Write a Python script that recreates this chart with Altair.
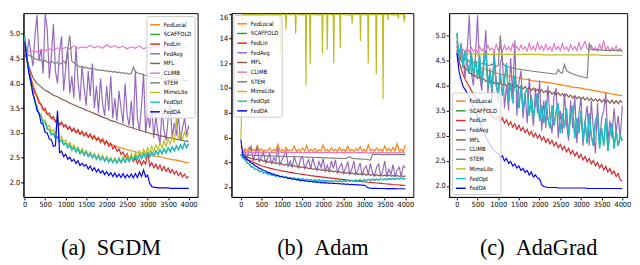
import altair as alt
import pandas as pd

METHODS = ["FedLocal", "SCAFFOLD", "FedLin", "FedAvg", "MFL", "CLIMB", "STEM", "MimeLite", "FedOpt", "FedDA"]
COLORS = ["#ff7f0e", "#2ca02c", "#d62728", "#9467bd", "#8c564b", "#e377c2", "#7f7f7f", "#bcbd22", "#17becf", "#0000ff"]
X_TICKS = [0, 500, 1000, 1500, 2000, 2500, 3000, 3500, 4000]
Y_TICKS_A = [2.0, 2.5, 3.0, 3.5, 4.0, 4.5, 5.0]
Y_TICKS_B = [2, 4, 6, 8, 10, 12, 14, 16]
Y_TICKS_C = [2.0, 2.5, 3.0, 3.5, 4.0, 4.5, 5.0]
CAPTIONS = ["(a)\u2002SGDM", "(b)\u2002Adam", "(c)\u2002AdaGrad"]
SANS = "'Liberation Sans Narrow', 'DejaVu Sans Condensed', 'Arial Narrow', 'DejaVu Sans', sans-serif"

# ---------------- (a) SGDM : values read every 100 or 50 iterations ----------------
A_FEDLOCAL = [4.80, 4.30, 3.98, 3.75, 3.56, 3.42, 3.34, 3.27, 3.21, 3.17, 3.13, 3.09, 3.05, 3.02, 2.99, 2.96, 2.93, 2.90, 2.87, 2.84,
              2.81, 2.77, 2.74, 2.71, 2.69, 2.66, 2.64, 2.62, 2.60, 2.59, 2.57, 2.55, 2.53, 2.52, 2.50, 2.48, 2.46, 2.45, 2.43, 2.41, 2.40]
A_FEDLIN = [4.90, 4.52, 4.30, 4.08, 3.92, 3.80, 3.73, 3.60, 3.58, 3.46, 3.50, 3.38, 3.40, 3.29, 3.33, 3.22, 3.27, 3.16, 3.22, 3.12,
            3.17, 3.07, 3.13, 3.03, 3.10, 3.00, 3.07, 2.97, 3.04, 2.94, 3.01, 2.91, 2.98, 2.88, 2.95, 2.85, 2.91, 2.81, 2.88, 2.77,
            2.84, 2.73, 2.79, 2.68, 2.74, 2.63, 2.68, 2.57, 2.62, 2.51, 2.58, 2.46, 2.53, 2.42, 2.49, 2.38, 2.46, 2.35, 2.44, 2.37,
            2.62, 2.33, 2.40, 2.30, 2.37, 2.27, 2.35, 2.24, 2.32, 2.22, 2.29, 2.19, 2.26, 2.17, 2.23, 2.14, 2.20, 2.11, 2.17, 2.09, 2.12]
A_FEDAVG = [4.75, 4.50, 4.90, 4.62, 4.35, 4.95, 5.38, 4.45, 4.70, 4.20, 5.40, 5.10, 4.10, 4.55, 5.20, 4.25, 4.00, 4.65, 4.95, 3.85,
            4.30, 4.70, 3.80, 4.15, 3.70, 4.75, 4.05, 3.65, 4.35, 3.90, 3.55, 4.25, 3.75, 4.40, 3.50, 3.95, 3.40, 4.10, 3.60, 3.35,
            3.95, 3.45, 4.15, 3.30, 3.70, 3.25, 3.85, 3.50, 3.20, 4.00, 3.35, 3.15, 3.65, 3.10, 4.25, 3.30, 3.05, 3.55, 4.20, 3.00,
            3.40, 3.10, 3.55, 2.90, 3.35, 3.00, 2.78, 3.45, 3.05, 2.85, 3.30, 3.60, 2.90, 3.20, 2.95, 3.35, 2.85, 3.10, 3.30, 2.95, 3.15]
A_MFL = [4.62, 4.35, 4.12, 4.00, 3.93, 3.86, 3.82, 3.76, 3.73, 3.68, 3.65, 3.60, 3.57, 3.53, 3.50, 3.46, 3.43, 3.39, 3.36, 3.32,
         3.29, 3.25, 3.23, 3.19, 3.17, 3.13, 3.11, 3.08, 3.06, 3.03, 3.01, 2.98, 2.97, 2.94, 2.93, 2.90, 2.90, 2.87, 2.86, 2.84, 2.83]
A_CLIMB = [4.62, 4.64, 4.66, 4.63, 4.68, 4.66, 4.70, 4.67, 4.72, 4.69, 4.73, 4.70, 4.76, 4.71, 4.74, 4.72, 4.77, 4.72, 4.75, 4.71,
           4.78, 4.73, 4.76, 4.72, 4.75, 4.70, 4.74, 4.71, 4.76, 4.70, 4.74, 4.72, 4.75, 4.71, 4.74, 4.72, 4.76, 4.71, 4.74, 4.72, 4.73]
A_STEM = [4.62, 4.60, 4.57, 4.55, 4.53, 4.50, 4.48, 4.50, 4.46, 4.44, 4.47, 4.43, 4.41, 4.45, 4.42, 4.40, 4.43, 4.39, 4.41, 4.45,
          4.40, 4.70, 4.97, 4.45, 4.42, 4.38, 4.36, 4.33, 4.35, 4.31, 4.33, 4.30, 4.31, 4.28, 4.30, 4.27, 4.28, 4.26, 4.27, 4.25,
          4.26, 4.24, 4.25, 4.23, 4.24, 4.22, 4.23, 4.21, 4.22, 4.20, 4.21, 4.19, 4.20, 4.33, 4.24, 4.21, 4.20, 4.19, 4.17, 4.16,
          4.15, 4.14, 4.14, 4.13, 4.12, 4.12, 4.11, 4.11, 4.10, 4.10, 4.09, 4.09, 4.08, 4.08, 4.08, 4.07, 4.07, 4.07, 4.06, 4.06, 4.06]
A_MIMELITE = [4.90, 4.48, 4.22, 3.98, 3.80, 3.62, 3.55, 3.40, 3.38, 3.24, 3.26, 3.12, 3.15, 3.02, 3.07, 2.95, 3.40, 2.88, 2.93, 2.82,
              2.86, 2.75, 2.81, 2.70, 2.76, 2.66, 2.72, 2.62, 2.68, 2.58, 2.65, 2.55, 2.62, 2.52, 2.59, 2.49, 2.57, 2.47, 2.55, 2.45,
              2.53, 2.43, 2.51, 2.41, 2.50, 2.40, 2.50, 2.41, 2.52, 2.43, 2.55, 2.46, 2.58, 2.48, 2.61, 2.51, 2.64, 2.54, 2.67, 2.57,
              2.70, 2.60, 2.73, 2.63, 2.76, 2.66, 2.80, 2.69, 2.84, 2.73, 2.88, 2.77, 2.92, 2.81, 3.30, 2.85, 2.98, 2.88, 3.02, 2.92, 3.00]
A_FEDOPT = [4.95, 4.55, 4.28, 4.02, 3.82, 3.62, 3.52, 3.38, 3.33, 3.20, 3.22, 3.08, 3.07, 2.96, 2.99, 2.90, 2.92, 2.82, 2.86, 2.76,
            2.80, 2.70, 2.76, 2.66, 2.71, 2.62, 2.68, 2.58, 2.64, 2.55, 2.62, 2.52, 2.59, 2.50, 2.56, 2.47, 2.54, 2.45, 2.52, 2.43,
            2.50, 2.41, 2.48, 2.40, 2.47, 2.39, 2.48, 2.40, 2.49, 2.41, 2.50, 2.42, 2.52, 2.44, 2.54, 2.46, 2.56, 2.48, 2.58, 2.50,
            2.60, 2.52, 2.62, 2.54, 2.64, 2.56, 2.66, 2.58, 2.68, 2.60, 2.70, 2.62, 2.72, 2.64, 2.74, 2.66, 2.76, 2.68, 2.79, 2.70, 2.78]
A_SCAFFOLD = A_FEDOPT  # hidden under FedOpt in the picture
A_FEDDA = [4.85, 4.52, 4.22, 4.04, 3.78, 3.66, 3.45, 3.40, 3.20, 3.17, 3.01, 3.00, 2.88, 2.86, 2.73, 2.74, 3.45, 2.60, 2.63, 2.52,
           2.57, 2.47, 2.51, 2.43, 2.47, 2.38, 2.44, 2.34, 2.39, 2.33, 2.36, 2.27, 2.33, 2.24, 2.30, 2.21, 2.27, 2.19, 2.24, 2.16,
           2.22, 2.14, 2.20, 2.12, 2.19, 2.11, 2.17, 2.10, 2.18, 2.09, 2.16, 2.10, 2.17, 2.09, 2.18, 2.10, 2.21, 2.12, 2.25, 2.11,
           2.15, 1.98, 1.92, 1.90, 1.90, 1.89, 1.89, 1.89, 1.89, 1.89, 1.89, 1.88, 1.88, 1.88, 1.88, 1.88, 1.88, 1.88, 1.88, 1.88, 1.88]

# ---------------- (b) Adam ----------------
B_MIMELITE_X = [0, 15, 40, 100, 300, 500, 700, 900, 952, 965, 978, 1085, 1098, 1111, 1200, 1320, 1333, 1346, 1450, 1571, 1584, 1597,
                1673, 1686, 1699, 1800, 1971, 1984, 1997, 2089, 2102, 2115, 2246, 2259, 2272, 2403, 2416, 2429, 2550, 2693, 2706, 2719,
                2800, 2897, 2910, 2923, 3000, 3085, 3098, 3111, 3200, 3281, 3294, 3307, 3446, 3459, 3472, 3563, 3576, 3589, 3700,
                3814, 3827, 3840, 3956, 3969, 3982, 4000]
B_MIMELITE_Y = [5.8, 7.8, 15.9, 15.95, 15.92, 15.95, 15.9, 15.95, 15.93, 12.8, 15.95, 15.92, 14.7, 15.95, 15.9, 15.93, 14.4, 15.95,
                15.9, 15.92, 10.2, 15.95, 15.93, 11.9, 15.95, 15.9, 15.92, 12.8, 15.95, 15.93, 13.1, 15.95, 15.92, 12.0, 15.95, 15.93,
                13.2, 15.95, 15.9, 15.92, 15.2, 15.95, 15.9, 15.93, 13.8, 15.95, 15.9, 15.92, 12.0, 15.95, 15.9, 15.93, 11.1, 15.95,
                15.92, 9.1, 15.95, 15.93, 15.5, 15.95, 15.9, 15.92, 15.6, 15.95, 15.93, 15.3, 15.95, 15.6]
B_FEDLOCAL = [5.30, 4.85, 5.10, 4.90, 5.20, 4.88, 5.05, 4.92, 5.35, 4.90, 5.10, 4.86, 5.00, 4.92, 5.15, 4.88, 5.05, 4.90, 5.45, 4.92,
              5.05, 4.88, 5.20, 4.90, 5.02, 4.93, 5.30, 4.88, 5.05, 4.92, 5.15, 4.90, 5.35, 4.88, 5.05, 4.92, 5.10, 4.89, 5.00, 4.93,
              5.40, 4.90, 5.05, 4.88, 5.15, 4.92, 5.05, 4.89, 5.20, 4.92, 5.05, 4.88, 5.30, 4.91, 5.05, 4.89, 5.10, 4.93, 5.25, 4.90,
              5.05, 4.88, 5.40, 4.92, 5.05, 4.89, 5.15, 4.93, 5.05, 4.88, 5.30, 4.92, 5.10, 4.89, 5.20, 4.91, 5.50, 4.88, 5.05, 4.85, 5.40]
B_CLIMB = [4.80, 4.78, 4.81, 4.77, 4.80, 4.78, 4.82, 4.77, 4.80, 4.78, 4.81, 4.77, 4.79, 4.78, 4.81, 4.76, 4.80, 4.78, 4.81, 4.77,
           4.79, 4.77, 4.80, 4.76, 4.79, 4.77, 4.80, 4.76, 4.78, 4.77, 4.79, 4.76, 4.78, 4.76, 4.79, 4.75, 4.78, 4.76, 4.78, 4.75, 4.76]
B_STEM = [4.65, 4.62, 4.60, 4.59, 4.58, 4.57, 4.56, 4.56, 4.55, 4.54, 4.53, 4.53, 4.52, 4.52, 4.51, 4.50, 4.50, 4.49, 4.49, 4.48,
          4.48, 4.47, 4.47, 4.46, 4.46, 4.45, 4.45, 4.44, 4.44, 4.43, 4.42, 4.42, 4.41, 4.41, 4.40, 4.39, 4.38, 4.38, 4.37, 4.37,
          4.36, 4.35, 4.35, 4.34, 4.33, 4.33, 4.32, 4.31, 4.31, 4.30, 4.30, 4.31, 4.36, 4.45, 4.33, 4.29, 4.28, 4.27, 4.26, 4.25,
          4.24, 4.22, 4.20, 4.18, 4.64, 4.63, 4.63, 4.63, 4.63, 4.62, 4.62, 4.62, 4.62, 4.62, 4.62, 4.62, 4.62, 4.62, 4.62, 4.62, 4.62]
B_FEDAVG = [4.60, 4.35, 4.90, 4.25, 5.00, 5.30, 4.10, 4.65, 5.25, 4.00, 4.45, 4.85, 3.95, 4.30, 4.70, 3.85, 4.40, 4.05, 5.20, 3.80,
            4.20, 4.55, 4.90, 3.70, 4.10, 3.65, 4.45, 3.90, 3.55, 4.25, 4.45, 3.50, 3.85, 4.20, 3.45, 4.35, 3.70, 3.35, 4.05, 3.55,
            4.30, 3.30, 3.75, 3.25, 4.10, 3.50, 4.20, 3.15, 3.60, 3.90, 3.10, 3.55, 4.00, 3.05, 3.45, 4.10, 3.00, 3.40, 3.95, 2.95,
            3.50, 3.70, 3.00, 3.90, 3.20, 2.90, 3.60, 3.85, 2.90, 3.30, 4.10, 2.85, 3.45, 3.00, 3.80, 2.85, 3.35, 3.60, 2.85, 3.70, 3.55]
B_MFL = [4.60, 4.50, 4.48, 4.38, 4.40, 4.28, 4.32, 4.20, 4.25, 4.13, 4.20, 4.07, 4.12, 4.00, 4.06, 3.94, 4.00, 3.89, 3.95, 3.83,
         3.88, 3.77, 3.83, 3.72, 3.78, 3.67, 3.73, 3.62, 3.68, 3.57, 3.63, 3.52, 3.58, 3.47, 3.53, 3.42, 3.49, 3.38, 3.45, 3.34,
         3.40, 3.30, 3.36, 3.26, 3.32, 3.22, 3.28, 3.18, 3.24, 3.14, 3.20, 3.10, 3.17, 3.07, 3.14, 3.04, 3.11, 3.01, 3.08, 2.98,
         3.05, 2.96, 3.03, 2.94, 3.01, 2.92, 2.99, 2.90, 2.97, 2.89, 2.96, 2.88, 2.95, 2.87, 2.94, 2.86, 2.93, 2.85, 2.92, 2.84, 2.90]
B_FEDLIN = [4.60, 4.35, 4.15, 4.00, 3.85, 3.72, 3.62, 3.52, 3.44, 3.37, 3.30, 3.24, 3.18, 3.12, 3.07, 3.02, 2.97, 2.92, 2.88, 2.84,
            2.80, 2.76, 2.72, 2.68, 2.64, 2.60, 2.56, 2.52, 2.48, 2.45, 2.41, 2.38, 2.35, 2.32, 2.29, 2.26, 2.23, 2.20, 2.18, 2.15, 2.12]
B_FEDOPT = [4.65, 4.35, 4.20, 3.95, 3.85, 3.62, 3.60, 3.42, 3.42, 3.25, 3.28, 3.12, 3.17, 3.02, 3.08, 2.94, 3.00, 2.87, 2.93, 2.81,
            2.88, 2.76, 2.83, 2.71, 2.78, 2.67, 2.74, 2.63, 2.70, 2.59, 2.67, 2.56, 2.64, 2.53, 2.61, 2.50, 2.59, 2.48, 2.57, 2.46,
            2.55, 2.44, 2.53, 2.43, 2.52, 2.42, 2.52, 2.42, 2.52, 2.43, 2.53, 2.44, 2.54, 2.45, 2.56, 2.46, 2.57, 2.48, 2.59, 2.49,
            2.60, 2.51, 2.62, 2.52, 2.63, 2.54, 2.65, 2.55, 2.66, 2.57, 2.68, 2.58, 2.69, 2.60, 2.71, 2.61, 2.72, 2.63, 2.73, 2.64, 2.70]
B_SCAFFOLD = B_FEDOPT  # hidden under FedOpt in the picture
B_FEDDA = [5.80, 4.60, 4.42, 4.20, 4.12, 3.93, 3.87, 3.70, 3.64, 3.50, 3.46, 3.33, 3.30, 3.18, 3.16, 3.06, 3.04, 2.95, 2.94, 2.85,
           2.85, 2.77, 2.77, 2.69, 2.70, 2.63, 2.64, 2.57, 2.59, 2.52, 2.54, 2.48, 2.50, 2.44, 2.46, 2.40, 2.43, 2.37, 2.40, 2.34,
           2.37, 2.32, 2.34, 2.29, 2.32, 2.27, 2.30, 2.26, 2.28, 2.23, 2.26, 2.21, 2.24, 2.19, 2.22, 2.17, 2.20, 2.15, 2.18, 2.13,
           2.16, 2.05, 1.93, 1.90, 1.89, 1.89, 1.89, 1.88, 1.88, 1.88, 1.88, 1.87, 1.87, 1.87, 1.87, 1.87, 1.86, 1.86, 1.86, 1.86, 1.86]

# ---------------- (c) AdaGrad ----------------
C_FEDLOCAL = [4.80, 4.65, 4.55, 4.48, 4.43, 4.39, 4.35, 4.32, 4.29, 4.26, 4.24, 4.22, 4.20, 4.18, 4.16, 4.15, 4.13, 4.12, 4.10, 4.09,
              4.08, 4.07, 4.06, 4.05, 4.03, 4.02, 4.00, 3.99, 3.97, 3.96, 3.95, 3.93, 3.92, 3.90, 3.89, 3.87, 3.86, 3.84, 3.83, 3.81, 3.80]
C_FEDLIN = [4.70, 4.50, 4.35, 4.22, 4.12, 4.05, 3.98, 3.90, 3.84, 3.78, 3.72, 3.67, 3.62, 3.57, 3.52, 3.48, 3.44, 3.40, 3.36, 3.33,
            3.40, 3.28, 3.36, 3.25, 3.32, 3.21, 3.28, 3.17, 3.24, 3.13, 3.21, 3.10, 3.17, 3.06, 3.13, 3.02, 3.09, 2.98, 3.05, 2.95,
            3.02, 2.91, 2.98, 2.87, 2.94, 2.84, 2.91, 2.80, 2.87, 2.76, 2.83, 2.72, 2.79, 2.68, 2.75, 2.64, 2.71, 2.60, 2.67, 2.56,
            2.63, 2.52, 2.59, 2.48, 2.55, 2.44, 2.51, 2.40, 2.47, 2.36, 2.43, 2.32, 2.39, 2.28, 2.35, 2.24, 2.30, 2.19, 2.25, 2.12, 2.10]
C_FEDAVG = [4.90, 4.40, 4.85, 4.55, 4.15, 4.70, 5.40, 4.25, 4.00, 4.60, 5.40, 4.20, 3.90, 4.55, 5.10, 3.85, 4.35, 3.75, 4.70, 4.10,
            3.65, 4.45, 4.60, 3.55, 4.00, 3.50, 4.55, 3.80, 4.90, 3.40, 4.05, 4.30, 3.35, 3.85, 3.25, 4.15, 3.60, 3.20, 3.95, 3.45,
            4.10, 3.10, 3.70, 3.15, 4.00, 3.35, 3.05, 3.80, 3.95, 2.95, 3.50, 3.05, 3.85, 3.25, 2.90, 3.70, 3.15, 3.80, 2.85, 3.45,
            3.75, 2.80, 3.30, 3.60, 2.80, 3.70, 3.10, 2.65, 3.65, 2.85, 3.35, 3.50, 3.85, 2.90, 3.30, 2.95, 3.55, 3.05, 3.40, 2.95, 3.60]
C_MFL = [4.78, 4.62, 4.50, 4.44, 4.34, 4.32, 4.24, 4.24, 4.18, 4.20, 4.14, 4.17, 4.11, 4.14, 4.08, 4.12, 4.06, 4.10, 4.04, 4.08,
         4.02, 4.07, 4.01, 4.05, 3.99, 4.04, 3.98, 4.02, 3.96, 4.01, 3.95, 3.99, 3.93, 3.98, 3.92, 3.96, 3.90, 3.95, 3.89, 3.93,
         3.87, 3.92, 3.86, 3.90, 3.84, 3.89, 3.83, 3.87, 3.81, 3.86, 3.80, 3.84, 3.78, 3.83, 3.77, 3.81, 3.75, 3.80, 3.74, 3.78,
         3.73, 3.77, 3.71, 3.76, 3.70, 3.75, 3.69, 3.74, 3.68, 3.73, 3.67, 3.72, 3.66, 3.71, 3.65, 3.71, 3.64, 3.70, 3.64, 3.70, 3.66]
C_CLIMB = [4.65, 4.68, 4.64, 4.72, 4.66, 4.74, 4.67, 4.76, 4.68, 4.72, 4.66, 4.78, 4.69, 4.74, 4.67, 4.80, 4.70, 4.75, 4.68, 4.82,
           4.70, 4.76, 4.68, 4.80, 4.71, 4.77, 4.69, 4.83, 4.72, 4.78, 4.70, 4.81, 4.72, 4.77, 4.69, 4.84, 4.71, 4.78, 4.70, 4.86,
           4.72, 4.79, 4.70, 4.82, 4.71, 4.77, 4.69, 4.83, 4.72, 4.78, 4.70, 4.84, 4.72, 4.77, 4.69, 4.81, 4.71, 4.78, 4.70, 4.85,
           4.72, 4.80, 4.88, 4.74, 4.70, 4.80, 4.71, 4.76, 4.69, 4.82, 4.72, 4.90, 4.71, 4.78, 4.68, 4.76, 4.70, 4.79, 4.68, 4.74, 4.66]
C_STEM = [4.70, 4.62, 4.58, 4.55, 4.52, 4.50, 4.49, 4.47, 4.46, 4.48, 4.45, 4.44, 4.43, 4.46, 4.42, 4.41, 4.40, 4.43, 4.39, 4.38,
          4.40, 5.00, 4.45, 4.40, 4.38, 4.37, 4.36, 4.35, 4.34, 4.33, 4.33, 4.32, 4.31, 4.31, 4.30, 4.30, 4.29, 4.28, 4.28, 4.27,
          4.27, 4.26, 4.26, 4.25, 4.25, 4.24, 4.24, 4.23, 4.23, 4.32, 4.26, 4.25, 4.42, 4.30, 4.27, 4.25, 4.23, 4.22, 4.20, 4.19,
          4.18, 4.17, 4.16, 4.15, 4.85, 4.72, 4.71, 4.71, 4.71, 4.71, 4.71, 4.70, 4.70, 4.70, 4.70, 4.70, 4.70, 4.70, 4.70, 4.70, 4.70]
C_MIMELITE = [4.66, 4.64, 4.63, 4.63, 4.63, 4.62, 4.62, 4.62, 4.62, 4.62, 4.62, 4.62, 4.62, 4.62, 4.62, 4.62, 4.62, 4.62, 4.62, 4.62,
              4.62, 4.61, 4.61, 4.61, 4.61, 4.61, 4.61, 4.61, 4.61, 4.61, 4.61, 4.61, 4.61, 4.61, 4.61, 4.60, 4.60, 4.60, 4.60, 4.60, 4.60]
C_FEDOPT = [5.05, 4.55, 4.80, 4.35, 4.70, 4.45, 4.25, 4.65, 4.20, 4.50, 4.15, 4.60, 4.05, 4.40, 4.70, 3.95, 4.30, 3.90, 4.55, 4.00,
            3.85, 4.25, 3.80, 4.10, 4.45, 3.70, 4.05, 3.65, 4.20, 3.90, 3.55, 4.00, 3.50, 3.85, 3.95, 3.40, 3.80, 3.35, 3.65, 3.85,
            3.30, 3.60, 3.25, 3.70, 3.35, 3.15, 3.60, 3.20, 3.50, 3.65, 3.05, 3.45, 3.15, 3.55, 3.00, 3.40, 3.60, 2.95, 3.35, 3.05,
            3.50, 2.90, 3.30, 2.85, 3.45, 3.00, 2.80, 3.30, 3.40, 2.75, 3.15, 2.80, 3.35, 2.70, 3.05, 3.25, 2.75, 3.10, 2.80, 3.00, 2.90]
C_SCAFFOLD = C_FEDOPT  # hidden under FedOpt in the picture
C_FEDDA = [4.65, 4.30, 4.12, 3.98, 3.92, 3.85, 3.76, 3.67, 3.58, 3.48, 3.38, 3.28, 3.18, 3.08, 2.98, 2.90, 2.82, 2.76, 2.71, 2.66,
           2.64, 2.56, 2.60, 2.50, 2.55, 2.45, 2.49, 2.40, 2.44, 2.36, 2.40, 2.31, 2.35, 2.27, 2.31, 2.22, 2.28, 2.18, 2.22, 2.16,
           2.14, 2.02, 1.99, 1.98, 1.97, 1.97, 1.97, 1.97, 1.97, 1.96, 1.96, 1.96, 1.96, 1.96, 1.96, 1.96, 1.96, 1.96, 1.96, 1.96,
           1.96, 1.96, 1.96, 1.95, 1.95, 1.95, 1.95, 1.95, 1.95, 1.95, 1.95, 1.95, 1.95, 1.95, 1.95, 1.95, 1.95, 1.95, 1.95, 1.95, 1.95]


def even_iters(values):
    n = len(values)
    return [i * 4000 / (n - 1) for i in range(n)]


PANEL_A = {
    "FedLocal": A_FEDLOCAL, "SCAFFOLD": A_SCAFFOLD, "FedLin": A_FEDLIN, "FedAvg": A_FEDAVG, "MFL": A_MFL,
    "CLIMB": A_CLIMB, "STEM": A_STEM, "MimeLite": A_MIMELITE, "FedOpt": A_FEDOPT, "FedDA": A_FEDDA,
}
PANEL_B = {
    "FedLocal": B_FEDLOCAL, "SCAFFOLD": B_SCAFFOLD, "FedLin": B_FEDLIN, "FedAvg": B_FEDAVG, "MFL": B_MFL,
    "CLIMB": B_CLIMB, "STEM": B_STEM, "MimeLite": (B_MIMELITE_X, B_MIMELITE_Y), "FedOpt": B_FEDOPT, "FedDA": B_FEDDA,
}
PANEL_C = {
    "FedLocal": C_FEDLOCAL, "SCAFFOLD": C_SCAFFOLD, "FedLin": C_FEDLIN, "FedAvg": C_FEDAVG, "MFL": C_MFL,
    "CLIMB": C_CLIMB, "STEM": C_STEM, "MimeLite": C_MIMELITE, "FedOpt": C_FEDOPT, "FedDA": C_FEDDA,
}


def to_frame(panel):
    rows = []
    for m in METHODS:
        s = panel[m]
        if isinstance(s, tuple):
            xs, ys = s
        else:
            xs, ys = even_iters(s), s
        for x, y in zip(xs, ys):
            rows.append({"iter": x, "loss": y, "method": m})
    return pd.DataFrame(rows)


def make_panel(panel, width, xdom, ydom, yticks, yfmt, caption, legend_kw, yflush=False):
    df = to_frame(panel)
    layers = []
    for m in METHODS:
        layers.append(
            alt.Chart()
            .transform_filter(alt.datum.method == m)
            .mark_line(strokeWidth=1.2, clip=True)
            .encode(
                x=alt.X("iter:Q", scale=alt.Scale(domain=xdom, nice=False, zero=False),
                        axis=alt.Axis(values=X_TICKS, format="d", title=caption,
                                      titleFont="Liberation Serif", titleFontSize=23,
                                      titleFontWeight="normal", titleColor="black",
                                      titleBaseline="alphabetic", titleY=60, labelFlush=False)),
                y=alt.Y("loss:Q", scale=alt.Scale(domain=ydom, nice=False, zero=False),
                        axis=alt.Axis(values=yticks, format=yfmt, title=None, labelFlush=yflush)),
                color=alt.Color("method:N", scale=alt.Scale(domain=METHODS, range=COLORS),
                                legend=alt.Legend(title=None, **legend_kw)),
            )
        )
    return alt.layer(*layers, data=df).properties(width=width, height=190)


pa = make_panel(PANEL_A, 180, [-30, 4219], [1.707, 5.42], Y_TICKS_A, ".1f", CAPTIONS[0],
                {"orient": "top-right", "offset": 3})
pb = make_panel(PANEL_B, 188, [-228, 4195], [1.195, 16.04], Y_TICKS_B, "d", CAPTIONS[1],
                {"orient": "top-left", "offset": 2}, yflush=2)
pc = make_panel(PANEL_C, 184, [-187, 4117], [1.782, 5.442], Y_TICKS_C, ".1f", CAPTIONS[2],
                {"orient": "bottom-left", "offset": 3})

chart = (
    alt.hconcat(pa, pb, pc, spacing=20)
    .resolve_scale(color="independent")
    .properties(padding={"left": 0, "top": 0, "right": 0, "bottom": 0}, background="white")
    .configure_view(stroke="black", strokeWidth=1)
    .configure_axis(grid=False, domainColor="black", domainWidth=1, tickColor="black", tickWidth=1,
                    tickSize=3, labelColor="black", labelFont=SANS, labelFontSize=7.5,
                    labelPadding=1)
    .configure_legend(padding=3, fillColor="rgba(255,255,255,0.8)", strokeColor="#cccccc", cornerRadius=2,
                      labelFont=SANS, labelFontSize=6, labelColor="black", labelOffset=3,
                      symbolType="stroke", symbolSize=100, symbolStrokeWidth=1.5, rowPadding=1)
)

chart.save("out.html", embed_options={"renderer": "svg", "actions": False})
